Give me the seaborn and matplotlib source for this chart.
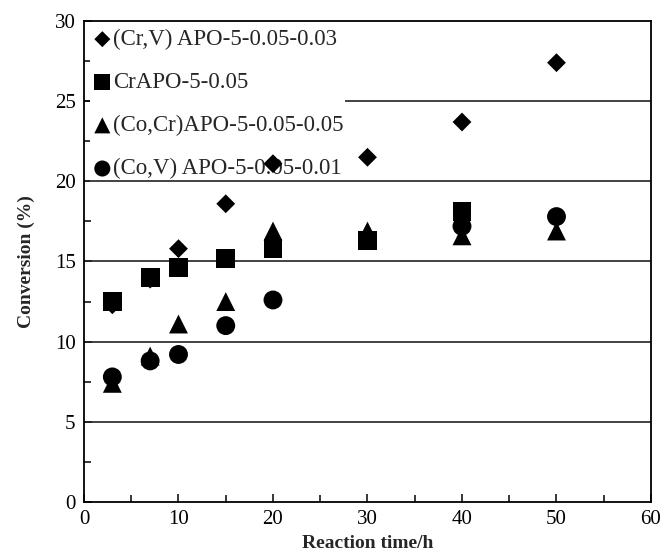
import matplotlib
matplotlib.use("Agg")
import matplotlib.pyplot as plt
import seaborn as sns
import pandas as pd
from matplotlib.ticker import MultipleLocator

# reaction times (h) and conversion (%) per catalyst
crv_time = [3, 7, 10, 15, 20, 30, 40, 50]
crv_conv = [12.3, 13.9, 15.8, 18.6, 21.1, 21.5, 23.7, 27.4]
cr_time = [3, 7, 10, 15, 20, 30, 40]
cr_conv = [12.5, 14.0, 14.6, 15.2, 15.8, 16.3, 18.1]
cocr_time = [3, 7, 10, 15, 20, 30, 40, 50]
cocr_conv = [7.4, 9.1, 11.1, 12.5, 16.9, 16.9, 16.6, 16.9]
cov_time = [3, 7, 10, 15, 20, 40, 50]
cov_conv = [7.8, 8.8, 9.2, 11.0, 12.6, 17.2, 17.8]

labels = ["(Cr,V) APO-5-0.05-0.03", "CrAPO-5-0.05",
          "(Co,Cr)APO-5-0.05-0.05", "(Co,V) APO-5-0.05-0.01"]
markers = ["D", "s", "^", "o"]
sizes = [92, 185, 185, 185]

sns.set_theme(style="white")
plt.rcParams["font.family"] = ["Liberation Serif", "DejaVu Serif"]

fig = plt.figure(figsize=(6.64, 5.54), dpi=100)
ax = fig.add_axes([0.1265, 0.0939, 0.8539, 0.8682])

series = [(crv_time, crv_conv), (cr_time, cr_conv),
          (cocr_time, cocr_conv), (cov_time, cov_conv)]
for (t, c), lab, m, s in zip(series, labels, markers, sizes):
    df = pd.DataFrame({"time": t, "conv": c})
    sns.scatterplot(data=df, x="time", y="conv", marker=m, s=s, color="black",
                    edgecolor="none", linewidth=0, label=lab, zorder=3, ax=ax)

ax.set_xlim(0, 60)
ax.set_ylim(0, 30)
ax.xaxis.set_major_locator(MultipleLocator(10))
ax.xaxis.set_minor_locator(MultipleLocator(5))
ax.yaxis.set_major_locator(MultipleLocator(5))
ax.yaxis.set_minor_locator(MultipleLocator(2.5))
ax.tick_params(which="both", direction="in", length=6, width=1.1, colors="black",
               labelsize=15, bottom=True, left=True, top=False, right=False, pad=6)
ax.tick_params(which="minor", length=5)

# horizontal grid only at the inner major ticks; only the 25 line goes under the legend
for yv in [5, 10, 15, 20, 25]:
    ax.axhline(yv, color="#222222", lw=1.2, zorder=0.5 if yv == 25 else 2)

for sp in ax.spines.values():
    sp.set_color("black")
    sp.set_linewidth(1.3)

ax.set_xlabel("Reaction time/h", fontsize=14, fontweight="bold", labelpad=4)
ax.set_ylabel("Conversion (%)", fontsize=14, fontweight="bold", labelpad=14)

# legend sits under the data points and hides part of the 25 % grid line
leg = ax.legend(loc="upper left", bbox_to_anchor=(0.0, 1.0), frameon=True,
                fancybox=False, edgecolor="none", facecolor="white", framealpha=1,
                markerscale=0.85, handletextpad=0.0, labelspacing=0.96,
                borderpad=0.1, borderaxespad=0.25, fontsize=16.5, handlelength=0.9,
                scatterpoints=1)
leg.set_zorder(1)

fig.savefig("out.png", dpi=100)
